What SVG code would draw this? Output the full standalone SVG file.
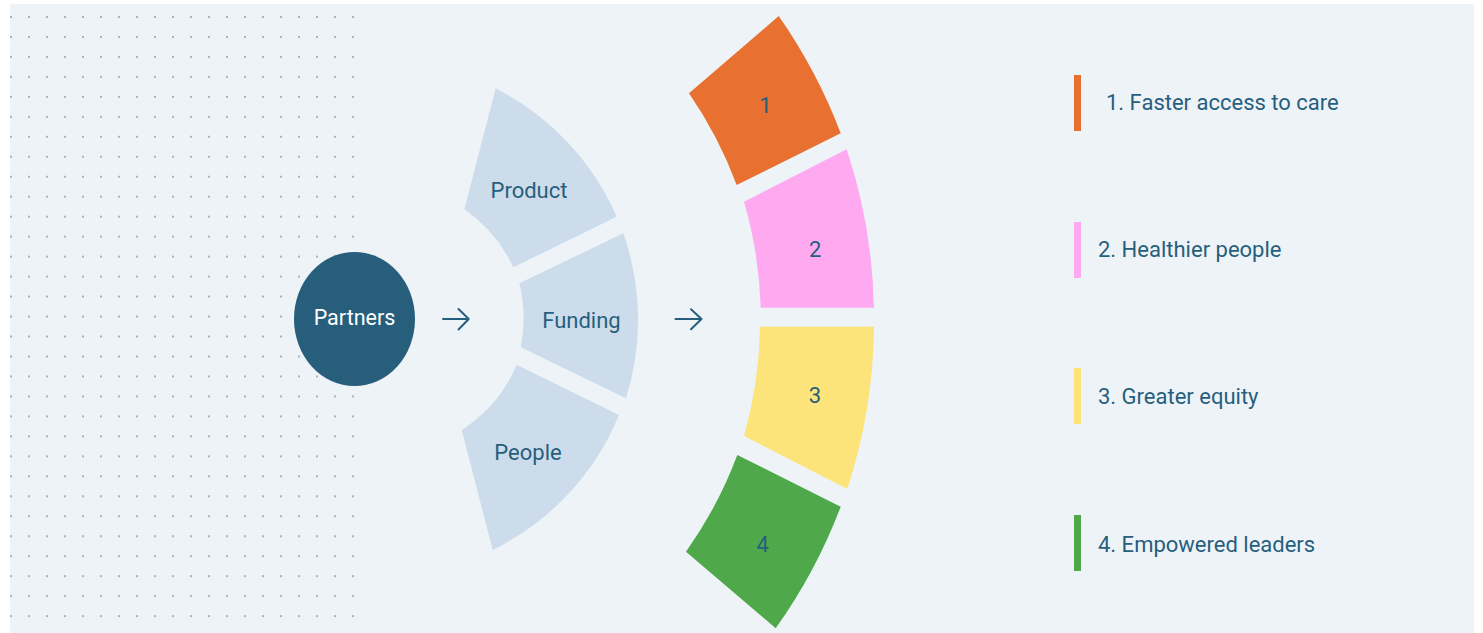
<svg xmlns="http://www.w3.org/2000/svg" width="1483" height="633" viewBox="0 0 1483 633">
<style>
.lbl{font-family:Roboto,"Liberation Sans",sans-serif;font-size:22px;fill:#265f7d;text-anchor:middle}
.leg{font-family:Roboto,"Liberation Sans",sans-serif;font-size:22px;fill:#265f7d}
.fan{fill:#cddcea}
.arr{fill:none;stroke:#265f7d;stroke-width:2;stroke-linecap:round;stroke-linejoin:round}
</style>
<defs>
<pattern id="dots" x="10" y="15" width="18" height="19.97" patternUnits="userSpaceOnUse">
<rect x="0" y="1" width="2" height="2" fill="#a3b6c9"/>
</pattern>
</defs>
<rect x="0" y="0" width="1483" height="633" fill="#ffffff"/>
<rect x="10" y="4" width="1464" height="629" fill="#eef3f8"/>
<rect x="10" y="6" width="346" height="612" fill="url(#dots)"/>

<g id="partners">
<ellipse cx="354.5" cy="319" rx="60.5" ry="67" fill="#265e7b"/>
<text x="354.5" y="325" class="lbl" style="fill:#ffffff;font-size:21.5px">Partners</text>
</g>

<g id="product">
<path class="fan" d="M 495.7 88.3 A 261 261 0 0 1 616.7 216.7 L 513.3 267.3 A 145 145 0 0 0 464.3 209.3 Z"/>
<text x="529" y="198" class="lbl">Product</text>
</g>
<g id="funding">
<path class="fan" d="M 623.3 233.3 A 261 261 0 0 1 626 398.3 L 520.7 347.3 A 145 145 0 0 0 519.3 283.3 Z"/>
<text x="581.5" y="328" class="lbl">Funding</text>
</g>
<g id="people">
<path class="fan" d="M 619 415 A 261 261 0 0 1 492.7 550 L 461.7 430 A 145 145 0 0 0 516.7 364.7 Z"/>
<text x="528" y="460" class="lbl">People</text>
</g>

<g id="seg1">
<path fill="#e87031" d="M 778.7 16 A 538 538 0 0 1 840.7 133.3 L 736.7 185 A 424 424 0 0 0 689 93.3 Z"/>
<text x="765.5" y="113" class="lbl">1</text>
</g>
<g id="seg2">
<path fill="#ffaaf0" d="M 846.7 149.3 A 538 538 0 0 1 874 307.7 L 760.7 307.7 A 424 424 0 0 0 744 201.7 Z"/>
<text x="815.3" y="256.7" class="lbl">2</text>
</g>
<g id="seg3">
<path fill="#fce47a" d="M 874 326.7 A 538 538 0 0 1 847.3 489 L 744 436 A 424 424 0 0 0 760 326.7 Z"/>
<text x="815" y="403.3" class="lbl">3</text>
</g>
<g id="seg4">
<path fill="#4fa94b" d="M 840.7 506.7 A 538 538 0 0 1 775.7 628.3 L 686 551.7 A 424 424 0 0 0 737.3 455 Z"/>
<text x="762.7" y="552.3" class="lbl">4</text>
</g>

<g id="legend1">
<rect x="1074" y="75" width="7" height="56" fill="#e97031"/>
<text x="1106" y="110" class="leg">1. Faster access to care</text>
</g>
<g id="legend2">
<rect x="1074" y="222" width="7" height="56" fill="#ffaaf0"/>
<text x="1098" y="257" class="leg">2. Healthier people</text>
</g>
<g id="legend3">
<rect x="1074" y="368" width="7" height="56" fill="#fce47a"/>
<text x="1098" y="403.5" class="leg">3. Greater equity</text>
</g>
<g id="legend4">
<rect x="1074" y="515" width="7" height="56" fill="#4fa94b"/>
<text x="1098" y="552" class="leg">4. Empowered leaders</text>
</g>

<g id="connectors">
<path class="arr" d="M 443 319 L 468.7 319 M 458.5 309 L 468.7 319 L 458.5 329.5"/>
<path class="arr" d="M 675.5 319 L 701.5 319 M 691 309.3 L 701.5 319 L 691 329.3"/>
</g>
</svg>
